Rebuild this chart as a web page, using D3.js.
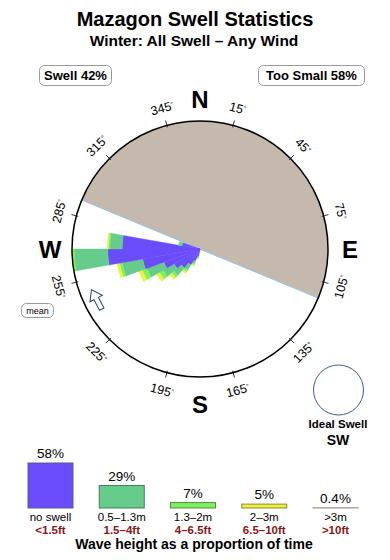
<!DOCTYPE html>
<html>
<head>
<meta charset="utf-8">
<script src="https://cdn.jsdelivr.net/npm/d3@7"></script>
<style>
  body { margin: 0; background: #fff; }
  svg { display: block; font-family: "Liberation Sans", Arial, sans-serif; }
</style>
</head>
<body>
<svg id="chart" width="390" height="560"></svg>
<script>
// direction bins (start bearing of each 10 degree bin)
var binStarts = [190, 200, 210, 220, 230, 240, 250, 260, 270, 280];
var noSwell   = [1.4, 2.4, 3.4, 4.6, 5.6, 7.2, 10.9, 17.3, 14.6, 3.4];
var smallSw   = [0.3, 0.6, 1.2, 1.8, 2.4, 3.4, 3.9, 6.3, 2.3, 0.6];
var midSw     = [0.1, 0.2, 0.4, 0.6, 0.8, 0.9, 0.5, 0.3, 0.3, 0.1];
var bigSw     = [0.1, 0.2, 0.3, 0.5, 0.6, 0.7, 0.5, 0.1, 0.2, 0.0];

// legend
var classNames = ['no swell', '0.5\u20131.3m', '1.3\u20132m', '2\u20133m', '>3m'];
var classFeet = ['<1.5ft', '1.5\u20134ft', '4\u20136.5ft', '6.5\u201310ft', '>10ft'];
var classPct = [58, 29, 7, 5, 0.4];
var classColors = ['#6a4cfb', '#66cc8c', '#7cf25c', '#eef23a', '#c9aaa2'];
var classStroke = ['#5a5a8a', '#4d7a5d', '#5a8a4a', '#8a8a3a', '#b09890'];

// degree labels and land sector
var tickBearings = [15, 45, 75, 105, 135, 165, 195, 225, 255, 285, 315, 345];
var landFrom = 292.5, landTo = 112.5;
var meanBearing = 244;

var svg = d3.select('#chart');
var cx = 200, cy = 249, R = 128;
var rad = Math.PI / 180;

// titles
svg.append('text')
    .attr('x', 195).attr('y', 26)
    .attr('text-anchor', 'middle')
    .style('font-size', '20px').style('font-weight', 'bold')
    .text('Mazagon Swell Statistics');
svg.append('text')
    .attr('x', 194).attr('y', 46)
    .attr('text-anchor', 'middle')
    .style('font-size', '15.5px').style('font-weight', 'bold')
    .text('Winter: All Swell \u2013 Any Wind');

// small boxed labels
function boxLabel(x, y, w, h, txt, size) {
    svg.append('rect')
        .attr('x', x).attr('y', y).attr('width', w).attr('height', h)
        .attr('rx', 5)
        .attr('fill', '#fff').attr('stroke', '#999').attr('stroke-width', 1);
    svg.append('text')
        .attr('x', x + w / 2).attr('y', y + h / 2)
        .attr('dy', '0.36em')
        .attr('text-anchor', 'middle')
        .style('font-size', size + 'px').style('font-weight', size > 10 ? 'bold' : 'normal')
        .text(txt);
}
boxLabel(39.5, 65.5, 72, 20, 'Swell 42%', 13);
boxLabel(258.5, 65.5, 106, 20, 'Too Small 58%', 13);
boxLabel(21.5, 303.5, 32, 14, 'mean', 9);

var g = svg.append('g').attr('transform', 'translate(' + cx + ',' + cy + ')');

// land
g.append('path')
    .attr('d', d3.arc()({innerRadius: 0, outerRadius: R,
        startAngle: landFrom * rad, endAngle: (landTo + 360) * rad}))
    .attr('fill', '#c4b9ac');
g.append('line')
    .attr('x1', R * Math.sin(landFrom * rad)).attr('y1', -R * Math.cos(landFrom * rad))
    .attr('x2', R * Math.sin(landTo * rad)).attr('y2', -R * Math.cos(landTo * rad))
    .attr('stroke', '#9cc3e4').attr('stroke-width', 1.2);

// rose wedges, stacked outward
var rScale = d3.scaleLinear().domain([0, 24]).range([0, R]);
var series = [noSwell, smallSw, midSw, bigSw];
var arc = d3.arc();
var pieces = [];
binStarts.forEach(function(b, i) {
    var acc = 0;
    series.forEach(function(s, k) {
        pieces.push({bin: b, k: k, r0: rScale(acc), r1: rScale(acc + s[i])});
        acc += s[i];
    });
});
g.selectAll('.wedge').data(pieces.filter(function(d) { return d.r1 > d.r0; }))
    .enter().append('path')
    .attr('class', 'wedge')
    .attr('d', function(d) {
        return arc({innerRadius: d.r0, outerRadius: d.r1,
            startAngle: d.bin * rad, endAngle: (d.bin + 10) * rad});
    })
    .attr('fill', function(d) { return classColors[d.k]; })
    .attr('stroke', function(d) { return classColors[d.k]; })
    .attr('stroke-width', 0.4);

// outer circle
g.append('circle').attr('r', R)
    .attr('fill', 'none').attr('stroke', '#000').attr('stroke-width', 1.5);

// ticks and degree labels
tickBearings.forEach(function(b) {
    var s = Math.sin(b * rad), c = Math.cos(b * rad);
    g.append('line')
        .attr('x1', (R - 2) * s).attr('y1', -(R - 2) * c)
        .attr('x2', (R + 5) * s).attr('y2', -(R + 5) * c)
        .attr('stroke', '#000').attr('stroke-width', 0.8);
    var rot = b <= 90 ? b : (b < 270 ? b - 180 : b - 360);
    var lr = 146;
    var t = g.append('text')
        .attr('transform', 'translate(' + (lr * s) + ',' + (-lr * c) + ') rotate(' + rot + ')')
        .attr('text-anchor', 'middle')
        .attr('dy', '0.36em')
        .style('font-size', '12.5px');
    t.append('tspan').text(b);
    t.append('tspan').attr('dy', '-0.45em').style('font-size', '7px').text('\u00b0');
});

// compass letters
[['N', 0], ['E', 90], ['S', 180], ['W', 270]].forEach(function(p) {
    var lr = p[1] === 180 ? 155 : 150;
    g.append('text')
        .attr('x', lr * Math.sin(p[1] * rad)).attr('y', -lr * Math.cos(p[1] * rad))
        .attr('dy', '0.36em')
        .attr('text-anchor', 'middle')
        .style('font-size', '24px').style('font-weight', 'bold')
        .text(p[0]);
});

// mean arrow (outline), sitting just inside the rim
var mr = R - 13;
var ma = g.append('g')
    .attr('transform', 'translate(' + (mr * Math.sin(meanBearing * rad)) + ',' +
        (-mr * Math.cos(meanBearing * rad)) + ') rotate(' + (meanBearing - 270 - 2) + ')');
ma.append('path')
    .attr('d', 'M0,-11 L7,-1 L2.5,-1 L2.5,11 L-2.5,11 L-2.5,-1 L-7,-1 Z')
    .attr('fill', '#fff').attr('stroke', '#2b4a6a').attr('stroke-width', 1);

// ideal swell
svg.append('circle').attr('cx', 338.5).attr('cy', 390).attr('r', 25)
    .attr('fill', '#fff').attr('stroke', '#3d5f86').attr('stroke-width', 1);
svg.append('text').attr('x', 338).attr('y', 428)
    .attr('text-anchor', 'middle')
    .style('font-size', '11.5px').style('font-weight', 'bold')
    .text('Ideal Swell');
svg.append('text').attr('x', 338).attr('y', 445)
    .attr('text-anchor', 'middle')
    .style('font-size', '14px').style('font-weight', 'bold')
    .text('SW');

// legend bars
var xLeg = d3.scalePoint().domain(classNames).range([50.5, 335.5]);
var hLeg = d3.scaleLinear().domain([0, 58]).range([0, 45]);
var baseY = 508, barW = 45;
var leg = svg.selectAll('.leg').data(classNames).enter().append('g').attr('class', 'leg');
leg.append('rect')
    .attr('x', function(d) { return xLeg(d) - barW / 2; })
    .attr('y', function(d, i) { return baseY - hLeg(classPct[i]); })
    .attr('width', barW)
    .attr('height', function(d, i) { return hLeg(classPct[i]); })
    .attr('fill', function(d, i) { return classColors[i]; })
    .attr('stroke', function(d, i) { return classStroke[i]; })
    .attr('stroke-width', 1);
leg.append('text')
    .attr('x', function(d) { return xLeg(d); })
    .attr('y', function(d, i) { return baseY - hLeg(classPct[i]) - 5; })
    .attr('text-anchor', 'middle')
    .style('font-size', '13.5px')
    .text(function(d, i) { return classPct[i] + '%'; });
leg.append('text')
    .attr('x', function(d) { return xLeg(d); })
    .attr('y', 521)
    .attr('text-anchor', 'middle')
    .style('font-size', '11.5px')
    .text(function(d) { return d; });
leg.append('text')
    .attr('x', function(d) { return xLeg(d); })
    .attr('y', 534)
    .attr('text-anchor', 'middle')
    .style('font-size', '11.5px').style('font-weight', 'bold')
    .attr('fill', '#8a1616')
    .text(function(d, i) { return classFeet[i]; });
svg.append('text')
    .attr('x', 194).attr('y', 549)
    .attr('text-anchor', 'middle')
    .style('font-size', '14px').style('font-weight', 'bold')
    .text('Wave height as a proportion of time');
</script>
</body>
</html>
